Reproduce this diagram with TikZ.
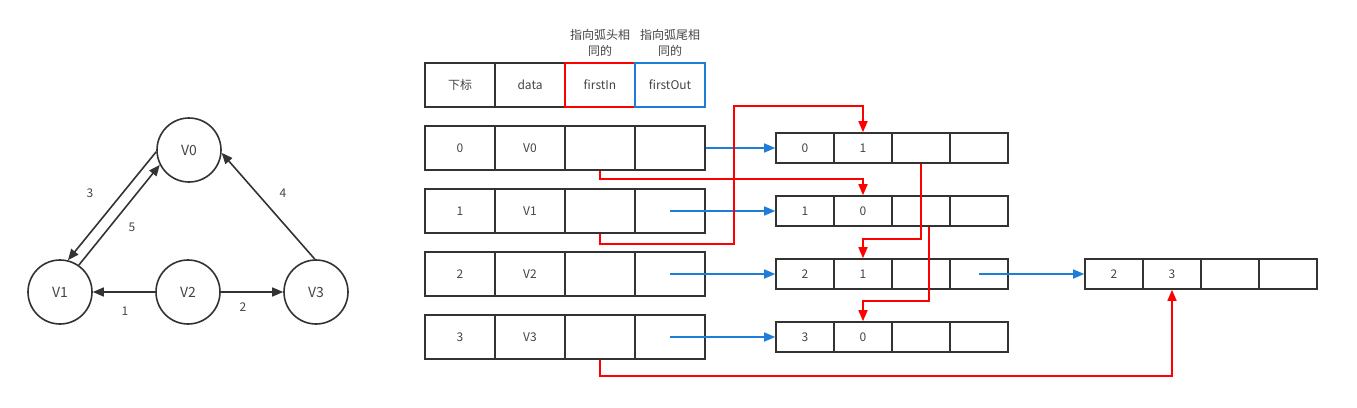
\documentclass[tikz,border=0pt]{standalone}
\usepackage{fontspec}
\setmainfont{Noto Sans CJK SC}
\usetikzlibrary{arrows.meta,positioning}

\definecolor{txtgray}{RGB}{68,68,68}
\definecolor{linegray}{RGB}{51,51,51}
\definecolor{inred}{RGB}{255,0,0}
\definecolor{outblue}{RGB}{30,125,215}

\begin{document}
\begin{tikzpicture}[x=1pt,y=-1pt,
    font=\fontsize{12}{14}\selectfont, text=txtgray,
    vert/.style={draw=linegray, line width=1.6pt, circle, minimum size=64pt, inner sep=0pt,
        font=\fontsize{14}{16}\selectfont},
    edge/.style={-{Triangle[length=11pt,width=9pt]}, draw=linegray, line width=1.6pt},
    cell/.style={draw=linegray, line width=1.6pt, minimum width=70pt, minimum height=44pt, inner sep=0pt},
    arc/.style={draw=linegray, line width=1.6pt, minimum width=58pt, minimum height=30pt, inner sep=0pt},
    inlink/.style={-{Triangle[length=11pt,width=9pt]}, draw=inred, line width=1.6pt},
    outlink/.style={-{Triangle[length=11pt,width=9pt]}, draw=outblue, line width=1.6pt}]

    \useasboundingbox (0,0) rectangle (1357,407);

    % 1. il grafo orientato
    \node[vert] (v0) at (189,150) {V0};
    \node[vert] (v1) at (60,292) {V1};
    \node[vert] (v2) at (188,292) {V2};
    \node[vert] (v3) at (316,292) {V3};

    \draw[edge] (v0.183) -- (v1.76);
    \draw[edge] (v1.55) -- (v0.207);
    \draw[edge] (v3.92) -- (v0.355);
    \draw[edge] (v2) -- (v1);
    \draw[edge] (v2) -- (v3);

    \node (w3) at (90,193) {3};
    \node (w5) at (132,227) {5};
    \node (w4) at (283,193) {4};
    \node (w1) at (125,311) {1};
    \node (w2) at (243,307) {2};

    % 2. intestazione della tabella dei vertici
    \node[cell] (hidx) at (460,85) {下标};
    \node[cell] (hdat) at (530,85) {data};
    \node[cell, draw=inred] (hin) at (600,85) {firstIn};
    \node[cell, draw=outblue] (hout) at (670,85) {firstOut};
    \node[align=center, font=\fontsize{12}{16}\selectfont] (notein) at (600,43) {指向弧头相\\同的};
    \node[align=center, font=\fontsize{12}{16}\selectfont] (noteout) at (670,43) {指向弧尾相\\同的};

    % 3. righe dei vertici
    \foreach \i/\v in {0/V0,1/V1,2/V2,3/V3} {
        \node[cell] (idx\i) at (460,{148+63*\i}) {\i};
        \node[cell] (dat\i) at (530,{148+63*\i}) {\v};
        \node[cell] (in\i) at (600,{148+63*\i}) {};
        \node[cell] (out\i) at (670,{148+63*\i}) {};
    }

    % 4. nodi degli archi (tailvex, headvex, hlink, tlink)
    \foreach \i/\t/\h in {0/0/1,1/1/0,2/2/1,3/3/0} {
        \node[arc] (tv\i) at (805,{148+63*\i}) {\t};
        \node[arc] (hv\i) at (863,{148+63*\i}) {\h};
        \node[arc] (hl\i) at (921,{148+63*\i}) {};
        \node[arc] (tl\i) at (979,{148+63*\i}) {};
    }
    \node[arc] (tv4) at (1114,274) {2};
    \node[arc] (hv4) at (1172,274) {3};
    \node[arc] (hl4) at (1230,274) {};
    \node[arc] (tl4) at (1288,274) {};

    % 5. firstOut / tlink (blu)
    \draw[outlink] (out0.east) -- (tv0.west);
    \foreach \i in {1,2,3} \draw[outlink] (out\i.center) -- (tv\i.west);
    \draw[outlink] (tl2.center) -- (tv4.west);

    % 6. firstIn / hlink (rosso)
    \coordinate (bend) at (734,106);
    \draw[inlink] (in0.south) -- ++(0,8) -| (hv1.north);
    \draw[inlink] (in1.south) -- ++(0,10) -| (bend) -| (hv0.north);
    \draw[inlink] (hl0.south) -- ++(0,75) -| (hv2.north);
    \draw[inlink] ([xshift=8pt]hl1.south) -- ++(0,74) -| (hv3.north);
    \draw[inlink] (in3.south) -- ++(0,16) -| (hv4.south);
\end{tikzpicture}
\end{document}
